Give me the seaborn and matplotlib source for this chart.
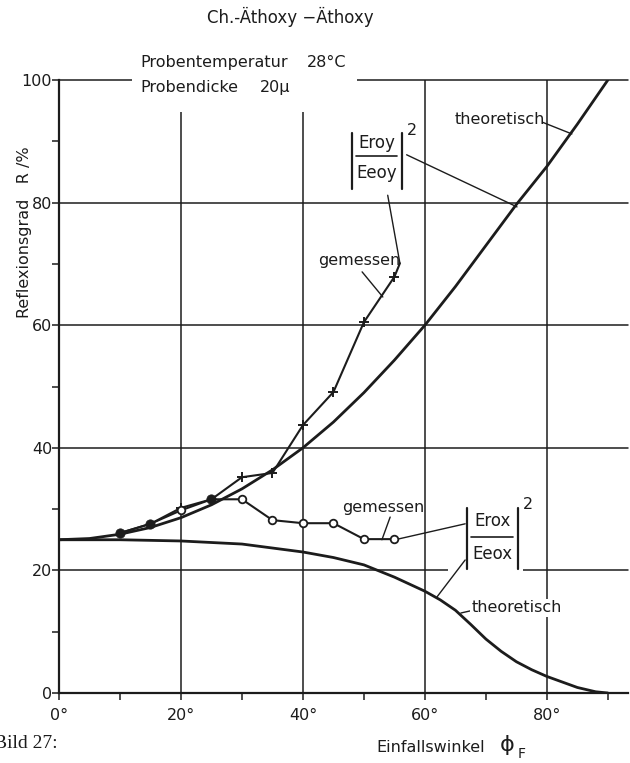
import numpy as np
import pandas as pd
import matplotlib
matplotlib.use('Agg')          # kein Display
import matplotlib.pyplot as plt
import seaborn as sns
from matplotlib.patches import Rectangle

# ── Werte ───────────────────────────────────────────────────────────
winkel_theo_y = [0, 5, 10, 15, 20, 25, 30, 35, 40, 45, 50, 55, 60, 65, 70, 75, 80, 85, 90]
r_y_theo = [25.0, 25.2, 25.9, 27.0, 28.6, 30.7, 33.3, 36.4, 40.0, 44.2, 49.0,
            54.3, 60.0, 66.3, 73.0, 79.7, 85.9, 92.8, 100.0]
winkel_theo_x = [0, 10, 20, 30, 40, 45, 50, 55, 60, 62.5, 65, 67.5, 70, 72.5,
                 75, 77.5, 80, 85, 88, 90]
r_x_theo = [25.0, 25.0, 24.8, 24.3, 23.0, 22.1, 20.9, 18.9, 16.6, 15.2, 13.5,
            11.2, 8.8, 6.8, 5.1, 3.8, 2.7, 0.9, 0.2, 0.0]

winkel_mess = [10, 15, 20, 25, 30, 35, 40, 45, 50, 55]
r_y_mess = [26.1, 27.6, 30.2, 31.6, 35.2, 35.9, 43.7, 49.1, 60.5, 67.9]
r_x_mess = [26.1, 27.6, 29.8, 31.6, 31.6, 28.2, 27.7, 27.7, 25.1, 25.1]
# Kurvenende oberhalb des letzten Messpunkts
winkel_y_ende = [55, 55.9]
r_y_ende = [67.9, 70.1]

# Punkte, an denen beide Messungen zusammenfallen (gefüllte Kreise)
idx_gemeinsam = [0, 1, 3]
idx_getrennt = [2, 4, 5, 6, 7, 8, 9]

x_ticks = [0, 20, 40, 60, 80]
x_tick_labels = ["0°", "20°", "40°", "60°", "80°"]
y_ticks = [0, 20, 40, 60, 80, 100]

INK = "#1c1c1c"

sns.set_style("ticks")
plt.rcParams['font.family'] = ['DejaVu Sans']

fig = plt.figure(figsize=(6.3, 7.63), dpi=100)
ax = fig.add_axes([59 / 630, 70 / 763, 569 / 630, 613 / 763])
ax.set_xlim(0, 93.3)
ax.set_ylim(0, 100)

# ── Gitter ──
for v in x_ticks[1:]:
    ax.axvline(v, color=INK, lw=1.1, zorder=1)
for v in y_ticks[1:]:
    ax.axhline(v, color=INK, lw=1.1, zorder=1, clip_on=False)

# weiße Flächen hinter den Beschriftungen (unterbrechen das Gitter)
ax.add_patch(Rectangle((12.0, 94.8), 36.9, 14, facecolor="white",
                       edgecolor="none", zorder=1.5, clip_on=False))
ax.add_patch(Rectangle((63.8, 19.0), 12.3, 12, facecolor="white",
                       edgecolor="none", zorder=1.5))

# ── Kurven ──
df_theo_y = pd.DataFrame({"winkel": winkel_theo_y, "r": r_y_theo})
df_theo_x = pd.DataFrame({"winkel": winkel_theo_x, "r": r_x_theo})
df_mess = pd.DataFrame({"winkel": winkel_mess, "ry": r_y_mess, "rx": r_x_mess})

sns.lineplot(data=df_theo_y, x="winkel", y="r", color=INK, lw=2.0, ax=ax, zorder=3)
sns.lineplot(data=df_theo_x, x="winkel", y="r", color=INK, lw=2.0, ax=ax, zorder=3)
sns.lineplot(data=df_mess, x="winkel", y="ry", color=INK, lw=1.5, ax=ax, zorder=3)
sns.lineplot(data=df_mess, x="winkel", y="rx", color=INK, lw=1.5, ax=ax, zorder=3)
sns.lineplot(x=winkel_y_ende, y=r_y_ende, color=INK, lw=1.5, ax=ax, zorder=3)

# Messpunkte
gem = df_mess.iloc[idx_gemeinsam]
get = df_mess.iloc[idx_getrennt]
sns.scatterplot(x=gem["winkel"], y=gem["ry"], marker="o", s=45, color=INK,
                edgecolor=INK, ax=ax, zorder=4)
sns.scatterplot(x=get["winkel"], y=get["ry"], marker="+", s=55, color=INK,
                linewidth=1.4, ax=ax, zorder=4)
sns.scatterplot(x=get["winkel"], y=get["rx"], marker="o", s=30, facecolor="white",
                edgecolor=INK, linewidth=1.3, ax=ax, zorder=4)

# ── Achsen ──
sns.despine(ax=ax)
for s in ("left", "bottom"):
    ax.spines[s].set_linewidth(1.6)
    ax.spines[s].set_color(INK)
ax.set_xticks(x_ticks)
ax.set_xticklabels(x_tick_labels)
ax.set_xticks([10, 30, 50, 70, 90], minor=True)
ax.set_yticks(y_ticks)
ax.set_yticks([10, 30, 50, 70, 90], minor=True)
ax.tick_params(which="both", direction="out", length=5, width=1.1, color=INK,
               labelsize=11.5, labelcolor=INK)
ax.tick_params(axis="x", pad=6)
ax.tick_params(axis="y", pad=0)
ax.set_xlabel("")
ax.set_ylabel("")

# ── Beschriftungen ──
def linie(x, y, lw=1.0):
    ax.plot(x, y, color=INK, lw=lw, zorder=3, clip_on=False)


def betrag_bruch(links, rechts, unten, oben, strich, zaehler, nenner):
    linie([links, links], [unten, oben], lw=1.6)
    linie([rechts, rechts], [unten, oben], lw=1.6)
    linie([links + 0.7, rechts - 0.7], [strich, strich], lw=1.2)
    mitte = (links + rechts) / 2
    ax.text(mitte, (strich + oben) / 2 + 0.2, zaehler, ha="center", va="center",
            fontsize=12, color=INK, zorder=4)
    ax.text(mitte, (strich + unten) / 2 - 0.1, nenner, ha="center", va="center",
            fontsize=12, color=INK, zorder=4)
    ax.text(rechts + 1.7, oben + 0.5, "2", ha="center", va="center",
            fontsize=11.5, color=INK, zorder=4)


txt = dict(fontsize=11.5, color=INK, zorder=4)

ax.text(13.3, 102.9, "Probentemperatur", ha="left", va="center", **txt)
ax.text(40.7, 102.9, "28°C", ha="left", va="center", **txt)
ax.text(13.3, 98.7, "Probendicke", ha="left", va="center", **txt)
ax.text(33.0, 98.7, "20µ", ha="left", va="center", **txt)

# oben: |Eroy/Eeoy|^2
betrag_bruch(48.0, 56.2, 82.3, 91.3, 87.6, "Eroy", "Eeoy")
linie([57.0, 75.1], [87.8, 79.3])
linie([53.9, 55.9], [81.2, 70.1])
ax.text(72.3, 93.6, "theoretisch", ha="center", va="center", **txt)
linie([79.3, 84.1], [93.1, 91.2])
ax.text(49.2, 70.6, "gemessen", ha="center", va="center", **txt)
linie([49.7, 53.1], [68.7, 64.6])

# unten: |Erox/Eeox|^2
betrag_bruch(66.9, 75.2, 20.2, 30.2, 25.4, "Erox", "Eeox")
linie([55.1, 66.6], [25.0, 27.6])
linie([66.6, 62.0], [21.7, 15.7])
ax.text(53.1, 30.2, "gemessen", ha="center", va="center", **txt)
linie([54.3, 52.95], [28.7, 25.0])
ax.text(75.0, 13.9, "theoretisch", ha="center", va="center",
        bbox=dict(facecolor="white", edgecolor="none", pad=1.0), **txt)
linie([65.9, 67.9], [13.05, 13.5])

# ── Texte außerhalb der Achsen ──
fig.text(290 / 630, 1 - 17 / 763, "Ch.-Äthoxy \u2212Äthoxy", ha="center",
         va="center", fontsize=12, color=INK)
fig.text(24 / 630, 1 - 232 / 763, "Reflexionsgrad   R /%", rotation=90,
         ha="center", va="center", fontsize=11.5, color=INK)
fig.text(376 / 630, 1 - 748 / 763, "Einfallswinkel", ha="left",
         va="center", fontsize=11.5, color=INK)
fig.text(500 / 630, 1 - 745 / 763, "\u03d5", ha="left", va="center",
         fontsize=16, color=INK)
fig.text(518 / 630, 1 - 754 / 763, "F", ha="left", va="center",
         fontsize=10, color=INK)
fig.text(-6 / 630, 1 - 743 / 763, "Bild 27:", ha="left", va="center",
         family="Liberation Serif", fontsize=14, color=INK)

fig.savefig("out.png", dpi=100, facecolor="white")
